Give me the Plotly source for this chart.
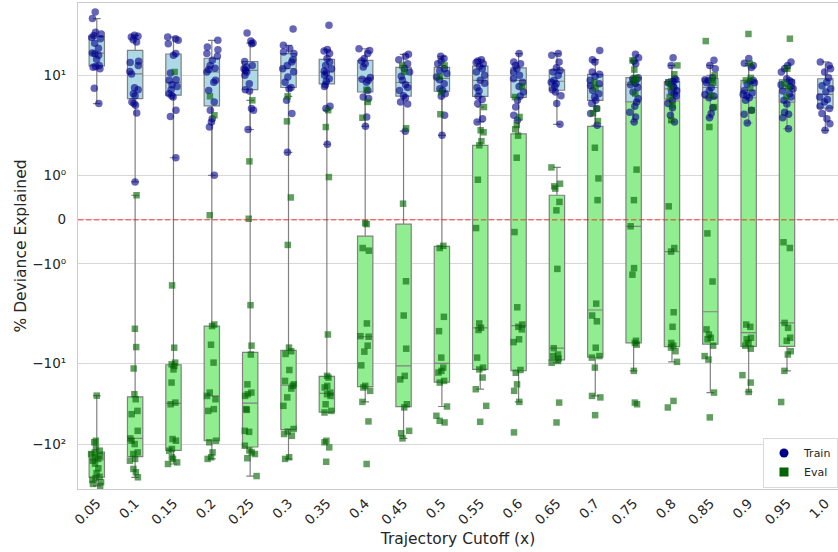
import numpy as np
import plotly.graph_objects as go

cutoffs = ["0.05", "0.1", "0.15", "0.2", "0.25", "0.3", "0.35", "0.4", "0.45", "0.5",
           "0.55", "0.6", "0.65", "0.7", "0.75", "0.8", "0.85", "0.9", "0.95", "1.0"]

train = [
    [61.8, 51.2, 34.6, 33, 31.5, 29.9, 28.7, 25.2, 21.9, 19.1, 18.7, 17.9, 16, 13.4, 13.0, 12.7, 12.2, 7.47, 5.25],
    [31.7, 31, 30.2, 28, 26.2, 15.1, 14.6, 13.4, 11.3, 10.5, 7.58, 7.23, 6.6, 6.3, 5.45, 5.25, 5.05, 4.22, 0.85],
    [30.2, 28.8, 27.5, 25, 18.8, 17.9, 10.8, 9.1, 8.97, 8.1, 7.8, 7.23, 6.6, 6.3, 6.1, 4.5, 3.9, 1.5],
    [27.5, 22.7, 21, 18.8, 17.4, 15.5, 13.4, 12.4, 11.9, 11.1, 8.97, 8.6, 7.1, 5.45, 4.5, 3.7, 3.43, 3.05, 1.0],
    [33.9, 26.9, 25.4, 25, 15.0, 13.4, 12.8, 12.2, 11.6, 11.1, 10.1, 8.3, 7.23, 7.0, 4.67, 4.5, 2.88],
    [38, 23.8, 21.6, 19.7, 18.8, 15.8, 14.8, 13.4, 12.2, 11.1, 9.7, 8.6, 7.6, 7.4, 5.65, 4.16, 1.7],
    [42.2, 21.1, 20.2, 18.8, 16.3, 14.8, 13.4, 12.2, 11.4, 10.8, 10.1, 9.3, 8.8, 8.1, 7.8, 4.94, 4.67, 2.05],
    [21.6, 20.6, 18.8, 16.3, 15.2, 14.1, 12.8, 9.6, 9.2, 8.97, 8.6, 7.1, 6.1, 5.9, 3.85, 3.1],
    [18.4, 17.4, 15.8, 14.1, 12.2, 11.1, 9.84, 8.97, 8.1, 7.6, 7.1, 6.3, 6.0, 5.45, 5.2, 2.77],
    [17.4, 16.3, 15.2, 14.1, 12.2, 11.5, 10.6, 9.7, 9.1, 8.3, 7.4, 7.1, 6.6, 6.2, 4.0, 2.52],
    [15.8, 15.2, 14.6, 14.1, 13.1, 12.2, 11.1, 10.1, 8.97, 8.4, 7.6, 7.0, 6.2, 5.75, 5.25, 3.7, 3.43],
    [18.8, 14.8, 14.1, 13.4, 12.2, 11.1, 10.1, 9.3, 8.6, 7.8, 6.85, 6.2, 5.65, 4.84, 4.0, 3.57],
    [18.8, 17.9, 14.8, 12.5, 11.6, 11.1, 10.1, 8.97, 8.6, 8.3, 7.8, 7.23, 6.85, 6.3, 5.25, 3.25],
    [20.6, 15.8, 14.8, 11.1, 10.4, 9.84, 8.97, 8.3, 7.9, 7.1, 6.6, 6.1, 5.65, 5.25, 4.67, 4.16, 3.17],
    [18.4, 16.7, 15.2, 14.1, 9.55, 9.25, 8.8, 8.4, 8.1, 7.6, 6.85, 5.9, 5.45, 4.94, 4.3, 3.85, 3.43],
    [16.7, 13.4, 9.3, 9.1, 8.8, 8.5, 8.2, 7.8, 7.6, 7.1, 6.8, 6.6, 6.3, 5.65, 5.25, 4.77, 4.0, 3.43],
    [15.5, 13.4, 12.2, 9.6, 9.1, 8.97, 8.5, 7.6, 7.0, 6.45, 6.2, 6.0, 4.77, 4.16, 3.78],
    [16.3, 14.3, 13.4, 12.6, 8.97, 8.8, 8.5, 8.2, 7.1, 6.7, 6.5, 6.3, 6.0, 5.65, 4.5, 4.1, 3.35],
    [14.8, 13.4, 12.2, 11.1, 9.3, 8.9, 8.6, 8.1, 7.8, 7.4, 7.0, 6.6, 6.1, 5.65, 5.2, 4.3, 4.1, 3.78, 2.93],
    [14.8, 13.4, 12.2, 11.1, 9.55, 8.6, 7.9, 7.4, 6.85, 6.1, 5.75, 5.45, 4.94, 4.67, 4.16, 3.7, 3.3, 2.83],
]

evals = [
    [-331, -313, -298, -280, -266, -255, -230, -200, -175, -161, -153, -146, -140, -133, -127, -121, -110, -95, -91, -25],
    [0.55, -4.47, -6.82, -11.5, -24.0, -27.7, -38.7, -42.5, -68.5, -85, -91, -100, -127, -133, -153, -161, -204, -224, -259],
    [11.1, -1.64, -6.92, -9.77, -10.2, -10.7, -11.8, -17.2, -30.5, -32, -86.6, -91, -115, -121, -146, -153, -169, -177],
    [6.2, 4.0, 0.1, -4.05, -4.2, -6.46, -9.77, -22.9, -25.2, -27.7, -36.8, -38.7, -91, -95, -127, -146, -153],
    [5.65, 1.38, 0.02, -2.59, -6.6, -8.1, -18.1, -22.9, -24, -25.2, -36.8, -37.6, -68.5, -70.5, -105, -120, -127, -133, -150, -250],
    [6.2, 3.48, 0.5, -0.57, -6.9, -7.5, -8, -12, -16.4, -18.1, -18.9, -20.4, -26.3, -33.5, -65, -70, -75, -79, -146, -153],
    [4.5, 3.05, 0.96, -5.1, -14.2, -14.9, -18.9, -19.8, -22.9, -24, -25.2, -32, -38.7, -40.5, -91, -95, -110, -166],
    [7.23, 5.45, 3.78, -0.08, -0.1, -0.64, -0.7, -3.95, -5.3, -5.37, -6.6, -7.58, -10.5, -18.9, -19.8, -21.8, -29.9, -52.3, -177],
    [13.4, 11.1, 2.96, 0.36, -1.49, -3.29, -7.08, -14.2, -15.7, -32, -35, -68.5, -73.4, -85],
    [13.4, 9.7, 6.85, 4.1, -0.59, -0.64, -3.39, -4.72, -8.7, -11.2, -12.3, -12.9, -16.4, -17.2, -34.1, -44.5, -51.4, -53.9],
    [4.84, 2.83, 2.7, 2.2, 2.0, 0.9, -0.19, -3.95, -4.37, -4.6, -8.7, -11.2, -11.8, -14.9, -20.8, -33.5, -52.9],
    [7.8, 6.1, 3.85, 3.2, 2.9, 2.5, 1.5, -0.28, -2.72, -4.05, -4.27, -4.53, -5.7, -6.08, -12, -13, -18.1, -21.8, -29.9, -71.6],
    [1.2, 0.81, 0.75, 0.7, 0.4, 0.21, -1.12, -7.0, -8.1, -8.4, -8.9, -9.4, -9.8, -30.5, -53.9],
    [8.6, 7.5, 4.67, 4.2, 3.5, 1.89, 0.93, 0.44, -2.5, -3.29, -3.76, -6.92, -8.4, -8.7, -11.2, -25.2, -26.3, -43.7],
    [15.5, 11.9, 9.5, 9.3, 8.6, 6.6, 1.14, 0.44, -0.15, -1.1, -1.28, -5.9, -6.2, -6.45, -12.3, -30.5, -32],
    [13.4, 10.4, 8.6, 7.6, 6.1, 5.05, 3.57, 0.3, -0.64, -0.72, -3.05, -4.27, -6.2, -6.6, -6.9, -7.5, -9.6, -29.1, -35.1],
    [26.9, 10.1, 9.0, 8.5, 6.3, 4.84, 3.05, -0.31, -1.5, -4.53, -5.1, -5.5, -5.7, -6.6, -8.4, -9.1, -22.9, -46.6],
    [33, 14.1, 9.5, 8.97, 7.5, 4.5, -4.05, -4.27, -5.5, -5.7, -6.2, -6.6, -7.08, -13.9, -17.2, -22.5],
    [28.8, 12.2, 8.3, 7.6, 6.1, -0.51, -0.64, -3.9, -4.37, -5.5, -5.9, -7.5, -8.1, -12.3, -30],
    [],
]

tick_values = [-100, -10, -1, 0, 1, 10]
tick_labels = ["\u221210\u00b2", "\u221210\u00b9", "\u221210\u2070", "0", "10\u2070", "10\u00b9"]


def symlog(v):
    """Symmetric-log axis scale (linear inside |y|<=1)."""
    v = np.asarray(v, dtype=float)
    a = np.abs(v)
    la = np.log10(np.maximum(a, 1e-12))
    out = np.where(a <= 1, 0.445 * a,
                   np.where(a <= 10, 0.445 + la, 1.445 + 0.807 * (la - 1)))
    return np.sign(v) * out


def box_stats(vals):
    v = np.sort(np.asarray(vals, dtype=float))
    q1, med, q3 = np.percentile(v, [25, 50, 75])
    iqr = q3 - q1
    lo = v[v >= q1 - 1.5 * iqr].min()
    hi = v[v <= q3 + 1.5 * iqr].max()
    return q1, med, q3, lo, hi


def stats_arrays(groups):
    xs, q1s, meds, q3s, los, his = [], [], [], [], [], []
    for cat, vals in zip(cutoffs, groups):
        if len(vals) == 0:
            continue
        q1, med, q3, lo, hi = box_stats(vals)
        xs.append(cat)
        q1s.append(q1); meds.append(med); q3s.append(q3); los.append(lo); his.append(hi)
    return xs, symlog(q1s), symlog(meds), symlog(q3s), symlog(los), symlog(his)


def long_form(groups):
    xs, ys = [], []
    for cat, vals in zip(cutoffs, groups):
        xs += [cat] * len(vals)
        ys += list(vals)
    return xs, symlog(ys)


BOX_W = 0.4
EDGE = "#808080"
fig = go.Figure()

for groups, fill in ((evals, "#90EE90"), (train, "#ADD8E6")):
    xs, q1, med, q3, lo, hi = stats_arrays(groups)
    fig.add_trace(go.Box(
        x=xs, q1=q1, median=med, q3=q3, lowerfence=lo, upperfence=hi,
        boxpoints=False, width=BOX_W, whiskerwidth=0.5,
        fillcolor=fill, line=dict(color=EDGE, width=1.2),
        showlegend=False, hoverinfo="skip"))

for groups, col, sym, size in ((train, "rgba(0,0,139,0.6)", "circle", 7.5),
                               (evals, "rgba(0,100,0,0.62)", "square", 6.5)):
    xs, ys = long_form(groups)
    fig.add_trace(go.Box(
        x=xs, y=ys, boxpoints="all", jitter=0.85, pointpos=0, width=BOX_W,
        fillcolor="rgba(0,0,0,0)", line=dict(color="rgba(0,0,0,0)", width=0),
        marker=dict(color=col, symbol=sym, size=size, line=dict(width=0)),
        showlegend=False, hoveron="points"))

fig.add_trace(go.Scatter(x=[None], y=[None], mode="markers", name="Train",
                         marker=dict(color="#00008B", symbol="circle", size=9)))
fig.add_trace(go.Scatter(x=[None], y=[None], mode="markers", name="Eval",
                         marker=dict(color="#006400", symbol="square", size=9)))

fig.add_shape(type="line", xref="paper", x0=0, x1=1, yref="y", y0=0, y1=0,
              line=dict(color="rgba(255,0,0,0.5)", width=1.5, dash="5.5px,2.4px"),
              layer="above")

TXT = "#262626"
fig.update_layout(
    width=838, height=552,
    margin=dict(l=78, r=0, t=3, b=63),
    paper_bgcolor="white", plot_bgcolor="white",
    boxmode="overlay",
    font=dict(family="DejaVu Sans", color=TXT, size=13.5),
    legend=dict(x=1, xanchor="right", y=0.003, yanchor="bottom",
                bgcolor="white", bordercolor="#d9d9d9", borderwidth=1,
                font=dict(size=11, color=TXT), tracegroupgap=0),
    xaxis=dict(type="category", categoryorder="array", categoryarray=cutoffs,
               range=[-0.49, 19.33], showgrid=False, tickangle=-45,
               showline=True, mirror=True, linecolor="#cccccc", linewidth=1.25,
               ticks="", tickfont=dict(size=13.5, color=TXT),
               title=dict(text="Trajectory Cutoff (x)", font=dict(size=15.5, color=TXT), standoff=6)),
    yaxis=dict(range=[-2.703, 2.174], tickmode="array",
               tickvals=list(symlog(tick_values)), ticktext=tick_labels,
               showgrid=True, gridcolor="#d7d7d7", gridwidth=1, zeroline=False,
               showline=True, mirror=False, linecolor="#cccccc", linewidth=1.25,
               ticks="", ticklabelstandoff=8, tickfont=dict(size=13.5, color=TXT),
               title=dict(text="% Deviance Explained", font=dict(size=15.5, color=TXT), standoff=1)),
)

fig.write_html("out.html", config={"displayModeBar": False},
               post_script="document.body.style.margin='0px';document.body.style.overflow='hidden';")
